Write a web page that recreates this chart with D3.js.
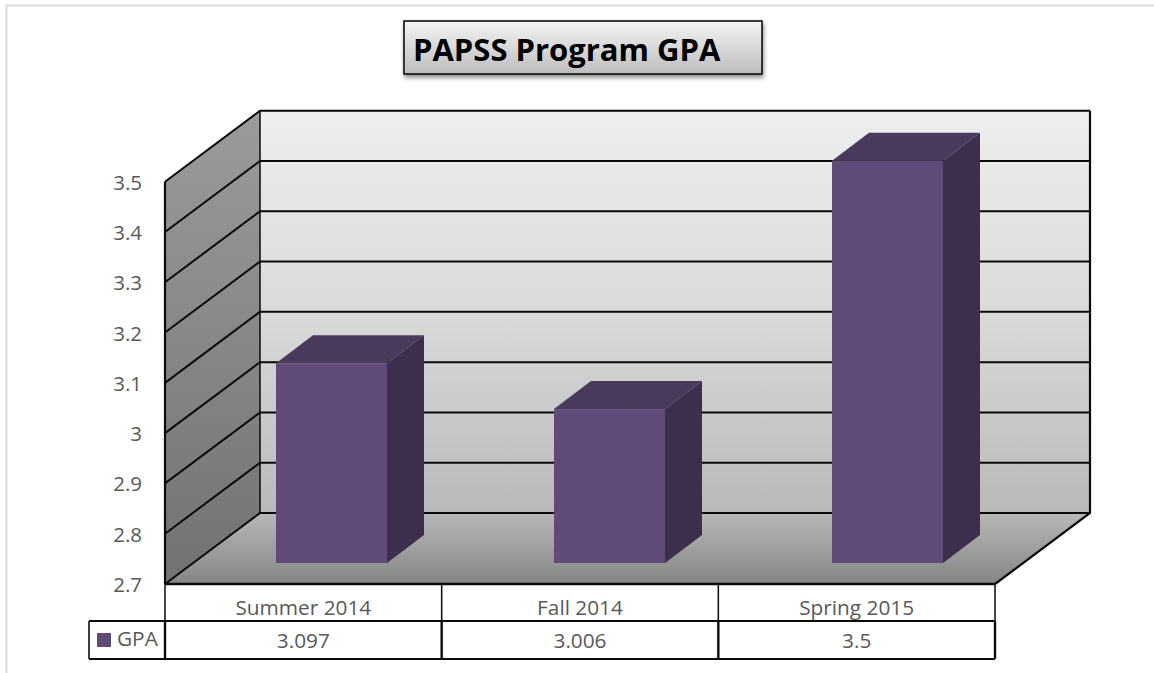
<!DOCTYPE html>
<html><head><meta charset="utf-8">
<script src="https://cdn.jsdelivr.net/npm/d3@7"></script>
<style>html,body{margin:0;padding:0;background:#fff}svg{display:block}text{font-family:"Open Sans",sans-serif}</style>
</head><body><svg id="c" width="1154" height="673"></svg>
<script>
const categories = ["Summer 2014","Fall 2014","Spring 2015"];
const gpaValues = [3.097,3.006,3.5];
const gpaLabels = ["3.097","3.006","3.5"];
const yTicks = [2.7,2.8,2.9,3,3.1,3.2,3.3,3.4,3.5];
const seriesName = "GPA";
const chartTitle = "PAPSS Program GPA";

const svg = d3.select("#c");
const defs = svg.append("defs");
function grad(id,stops,x2=0,y2=1){
  const g=defs.append("linearGradient").attr("id",id).attr("x1",0).attr("y1",0).attr("x2",x2).attr("y2",y2);
  stops.forEach(([o,c])=>g.append("stop").attr("offset",o).attr("stop-color",c));
}
grad("back",[[0,"#eeeeee"],[0.5,"#dadada"],[1,"#b9b9b9"]]);
grad("side",[[0,"#9b9b9b"],[1,"#727272"]]);
grad("floor",[[0,"#b8b8b8"],[1,"#858585"]]);
grad("ttl",[[0,"#f4f4f4"],[1,"#bdbdbd"]]);
const shadow=defs.append("filter").attr("id","sh").attr("x","-5%").attr("y","-10%").attr("width","110%").attr("height","130%");
shadow.append("feDropShadow").attr("dx",1).attr("dy",3).attr("stdDeviation",2).attr("flood-color","#000").attr("flood-opacity",0.45);

// frame
svg.append("path").attr("d","M6.5,673V5.5H1154").attr("fill","none").attr("stroke","#dcdcdc").attr("stroke-width",2);

// scales
const frontBase=584, depthX=95, depthY=71;
const x=d3.scaleBand().domain(categories).range([165,995]);
const xBar=d3.scalePoint().domain(categories).range([276,832]);
const yFront=d3.scaleLinear().domain([2.7,3.5]).range([frontBase,181.7]);
const yBack=v=>yFront(v)-depthY;
const left=x.range()[0], right=x.range()[1];
const bl=left+depthX, br=right+depthX;

// walls
const poly=pts=>d3.line()(pts)+"Z";
svg.append("path").attr("d",poly([[bl,yBack(3.5)],[br,yBack(3.5)],[br,yBack(2.7)],[bl,yBack(2.7)]])).attr("fill","url(#back)");
svg.append("path").attr("d",poly([[left,yFront(3.5)],[bl,yBack(3.5)],[bl,yBack(2.7)],[left,yFront(2.7)]])).attr("fill","url(#side)");
svg.append("path").attr("d",poly([[left,yFront(2.7)],[bl,yBack(2.7)],[br,yBack(2.7)],[right,yFront(2.7)]])).attr("fill","url(#floor)");

// gridlines
const lineCol="#0a0a0a";
svg.append("g").selectAll("path").data(yTicks).join("path")
  .attr("d",v=>d3.line()([[left,yFront(v)],[bl,yBack(v)],[br,yBack(v)]]))
  .attr("fill","none").attr("stroke",lineCol).attr("stroke-width",2);
svg.append("path").attr("d",d3.line()([[left,yFront(2.7)],[left,yFront(3.5)]])).attr("stroke",lineCol).attr("stroke-width",2.2).attr("fill","none");
svg.append("path").attr("d",d3.line()([[bl,yBack(3.5)],[bl,yBack(2.7)]])).attr("stroke",lineCol).attr("stroke-width",1.5).attr("fill","none");
svg.append("path").attr("d",d3.line()([[br,yBack(3.5)],[br,yBack(2.7)],[right,yFront(2.7)]])).attr("stroke",lineCol).attr("stroke-width",2.2).attr("fill","none");

// bars
const barW=111, barDX=37, barDY=28, barBaseLift=21;
const barX=c=>xBar(c);
const barY=v=>yFront(v)-barBaseLift;
const bars=svg.append("g").selectAll("g").data(categories.map((c,i)=>({c,v:gpaValues[i]}))).join("g");
bars.append("path").attr("fill","#3e2e4e").attr("d",d=>{const a=barX(d.c)+barW,t=barY(d.v),b=barY(2.7);
  return poly([[a,t],[a+barDX,t-barDY],[a+barDX,b-barDY],[a,b]]);});
bars.append("path").attr("fill","#49395b").attr("d",d=>{const a=barX(d.c),t=barY(d.v);
  return poly([[a,t],[a+barDX,t-barDY],[a+barW+barDX,t-barDY],[a+barW,t]]);});
bars.append("rect").attr("fill","#604a78").attr("x",d=>barX(d.c)).attr("y",d=>barY(d.v)).attr("width",barW).attr("height",d=>barY(2.7)-barY(d.v));

// y labels
svg.append("g").selectAll("text").data(yTicks).join("text")
  .attr("x",142).attr("y",v=>yFront(v)+8).attr("text-anchor","end")
  .attr("font-size",20.5).attr("fill","#595959").text(d=>d);

// data table
const rowTop=584,rowMid=621,rowBot=659,legL=89;
const tbl=svg.append("g").attr("fill","none").attr("stroke",lineCol);
tbl.append("path").attr("d",d3.line()([[left,rowTop],[right,rowTop]])).attr("stroke-width",2.6);
tbl.append("path").attr("d",d3.line()([[legL,rowMid],[right,rowMid]])).attr("stroke-width",2);
tbl.append("path").attr("d",d3.line()([[legL,rowBot],[right,rowBot]])).attr("stroke-width",2);
tbl.append("path").attr("d",d3.line()([[legL,rowMid],[legL,rowBot]])).attr("stroke-width",1.6);
[left,...categories.slice(1).map(c=>x(c)),right].forEach(px=>{
  tbl.append("path").attr("d",d3.line()([[px,rowTop],[px,rowMid]])).attr("stroke-width",1.5);
  tbl.append("path").attr("d",d3.line()([[px,rowMid],[px,rowBot]])).attr("stroke-width",2.4);
});
svg.append("g").selectAll("text").data(categories).join("text")
  .attr("x",c=>x(c)+x.bandwidth()/2).attr("y",615).attr("text-anchor","middle")
  .attr("font-size",20.8).attr("fill","#595959").text(d=>d);
svg.append("g").selectAll("text").data(gpaLabels).join("text")
  .attr("x",(d,i)=>x(categories[i])+x.bandwidth()/2).attr("y",648).attr("text-anchor","middle")
  .attr("font-size",20.8).attr("fill","#595959").text(d=>d);
svg.append("rect").attr("x",97).attr("y",633).attr("width",14).attr("height",14).attr("fill","#604a78");
svg.append("text").attr("x",117).attr("y",646).attr("font-size",20.8).attr("fill","#595959").text(seriesName);

// title
svg.append("rect").attr("x",404).attr("y",21).attr("width",358).attr("height",53)
  .attr("fill","url(#ttl)").attr("stroke","#111").attr("stroke-width",1.6).attr("filter","url(#sh)");
svg.append("text").attr("x",413).attr("y",61).attr("font-size",31).attr("font-weight",700).attr("fill","#000").text(chartTitle);
</script></body></html>
